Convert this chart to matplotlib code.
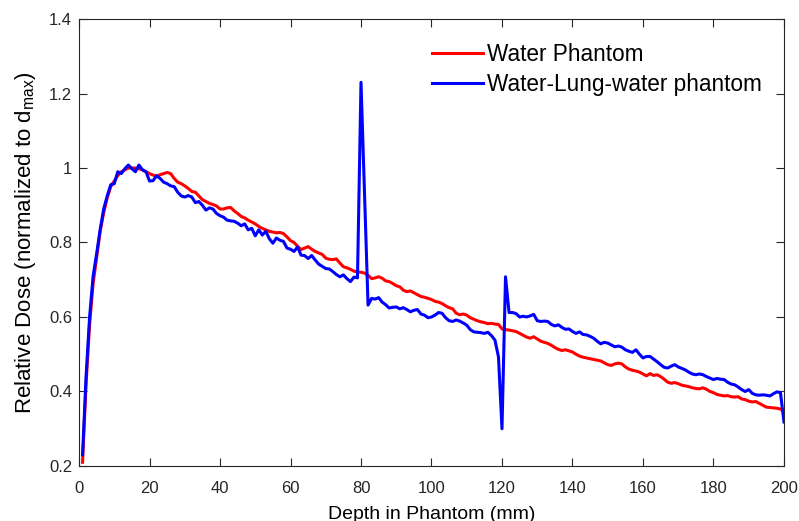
import numpy as np
import matplotlib
matplotlib.use("Agg")
import matplotlib.pyplot as plt

plt.rcParams['font.family'] = ['Liberation Sans', 'DejaVu Sans']

# depth in phantom (mm), one sample per mm
depth = np.arange(1, 201)

# Water phantom
water = [
    0.21, 0.42, 0.58, 0.69, 0.76, 0.83, 0.88, 0.92, 0.95, 0.965,
    0.98, 0.99, 0.995, 1.0, 1.0, 1.0, 0.998, 0.995, 0.99, 0.985,
    0.981, 0.978, 0.982, 0.985, 0.988, 0.985, 0.972, 0.962, 0.958, 0.952,
    0.945, 0.937, 0.935, 0.925, 0.915, 0.91, 0.905, 0.902, 0.898, 0.89,
    0.89, 0.893, 0.894, 0.885, 0.878, 0.87, 0.866, 0.86, 0.855, 0.85,
    0.843, 0.838, 0.834, 0.83, 0.828, 0.826, 0.827, 0.824, 0.815, 0.805,
    0.8, 0.79, 0.781, 0.785, 0.789, 0.782, 0.776, 0.772, 0.768, 0.758,
    0.755, 0.754, 0.756, 0.745, 0.735, 0.732, 0.728, 0.723, 0.721, 0.72,
    0.718, 0.712, 0.703, 0.705, 0.708, 0.704, 0.697, 0.695, 0.69, 0.684,
    0.681, 0.672, 0.668, 0.67, 0.665, 0.66, 0.655, 0.653, 0.65, 0.647,
    0.642, 0.64, 0.636, 0.63, 0.625, 0.622, 0.61, 0.606, 0.608, 0.605,
    0.598, 0.594, 0.59, 0.587, 0.585, 0.582, 0.583, 0.581, 0.58, 0.568,
    0.566, 0.565, 0.563, 0.561, 0.556, 0.551, 0.546, 0.543, 0.547, 0.541,
    0.535, 0.532, 0.529, 0.524, 0.518, 0.513, 0.51, 0.512, 0.509, 0.506,
    0.5, 0.495, 0.492, 0.49, 0.488, 0.486, 0.484, 0.482, 0.477, 0.472,
    0.47, 0.474, 0.476, 0.474, 0.466, 0.46, 0.457, 0.455, 0.452, 0.447,
    0.442, 0.448, 0.443, 0.445, 0.44, 0.433, 0.425, 0.422, 0.424, 0.421,
    0.417, 0.415, 0.413, 0.41, 0.408, 0.407, 0.41, 0.406, 0.4, 0.397,
    0.392, 0.39, 0.388, 0.389, 0.386, 0.385, 0.386, 0.38, 0.378, 0.374,
    0.372, 0.373, 0.368, 0.363, 0.358, 0.357, 0.356, 0.355, 0.353, 0.345,
]

# Water-Lung-water phantom
wlw = [
    0.23, 0.44, 0.6, 0.71, 0.77, 0.835, 0.89, 0.925, 0.955, 0.958,
    0.99, 0.985, 0.998, 1.008, 0.998, 0.99, 1.008, 0.995, 0.99, 0.965,
    0.966, 0.979, 0.972, 0.962, 0.958, 0.952, 0.95, 0.935, 0.925, 0.922,
    0.926, 0.922, 0.907, 0.91, 0.9, 0.887, 0.893, 0.89, 0.878, 0.872,
    0.868, 0.86, 0.858, 0.857, 0.852, 0.845, 0.85, 0.834, 0.838, 0.818,
    0.834, 0.82, 0.83, 0.81, 0.798, 0.812, 0.806, 0.803, 0.785, 0.782,
    0.776, 0.788, 0.766, 0.765, 0.757, 0.765, 0.753, 0.742, 0.736, 0.73,
    0.729, 0.722, 0.714, 0.708, 0.713, 0.703, 0.695, 0.707, 0.705, 1.23,
    0.93, 0.632, 0.65, 0.648, 0.652, 0.64, 0.633, 0.624, 0.626, 0.627,
    0.622, 0.625, 0.62, 0.614, 0.618, 0.62, 0.608, 0.605, 0.598, 0.6,
    0.605, 0.612, 0.61, 0.598, 0.59, 0.588, 0.592, 0.589, 0.584, 0.578,
    0.566, 0.56, 0.559, 0.558, 0.556, 0.559, 0.55, 0.538, 0.493, 0.3,
    0.708, 0.612, 0.612, 0.609, 0.6, 0.602, 0.6, 0.603, 0.607, 0.59,
    0.588, 0.589, 0.588, 0.58, 0.576, 0.579, 0.572, 0.567, 0.568, 0.561,
    0.556, 0.56, 0.553, 0.552, 0.548, 0.543, 0.535, 0.528, 0.532, 0.53,
    0.525, 0.52, 0.522, 0.519, 0.512, 0.508, 0.505, 0.512, 0.5, 0.49,
    0.494, 0.494, 0.487, 0.48, 0.472, 0.465, 0.463, 0.468, 0.472, 0.466,
    0.462, 0.458, 0.452, 0.447, 0.445, 0.447, 0.445, 0.44, 0.436, 0.432,
    0.435, 0.433, 0.432, 0.425, 0.42, 0.418, 0.412, 0.405, 0.4, 0.405,
    0.395, 0.391, 0.39, 0.391, 0.39, 0.388, 0.394, 0.399, 0.397, 0.318,
]

xticks = np.arange(0, 201, 20)
yticks = [0.2, 0.4, 0.6, 0.8, 1.0, 1.2, 1.4]
ytick_labels = ['0.2', '0.4', '0.6', '0.8', '1', '1.2', '1.4']

fig = plt.figure(figsize=(7.99, 5.21), dpi=100)
ax = fig.add_axes([0.0989, 0.1056, 0.8823, 0.8579])

ax.plot(depth, water, color=(1, 0, 0), lw=2.2, label='Water Phantom')
ax.plot(depth, wlw, color=(0, 0, 1), lw=2.2, label='Water-Lung-water phantom')

ax.set_xlim(0, 200)
ax.set_ylim(0.2, 1.4)
ax.set_xticks(xticks)
ax.set_yticks(yticks)
ax.set_yticklabels(ytick_labels)

axis_col = '#262626'
for s in ax.spines.values():
    s.set_color(axis_col)
    s.set_linewidth(0.8)
ax.tick_params(direction='in', length=6, width=0.8, colors=axis_col,
               labelsize=12, top=True, right=True)
ax.tick_params(axis='x', pad=11)
ax.tick_params(axis='y', pad=5)
for lab in ax.get_xticklabels() + ax.get_yticklabels():
    lab.set_color(axis_col)

ax.set_xlabel('Depth in Phantom (mm)', fontsize=14, color='black', labelpad=7)
ax.set_ylabel(r'Relative Dose (normalized to d$_{\mathregular{max}}$)', fontsize=16,
              color='black', labelpad=8)

ax.legend(loc='upper right', frameon=False, fontsize=16.3, handlelength=2.25,
          handletextpad=0.18, labelspacing=0.31, borderpad=0.4,
          bbox_to_anchor=(0.998, 0.993))

fig.savefig('out.png', dpi=100)
